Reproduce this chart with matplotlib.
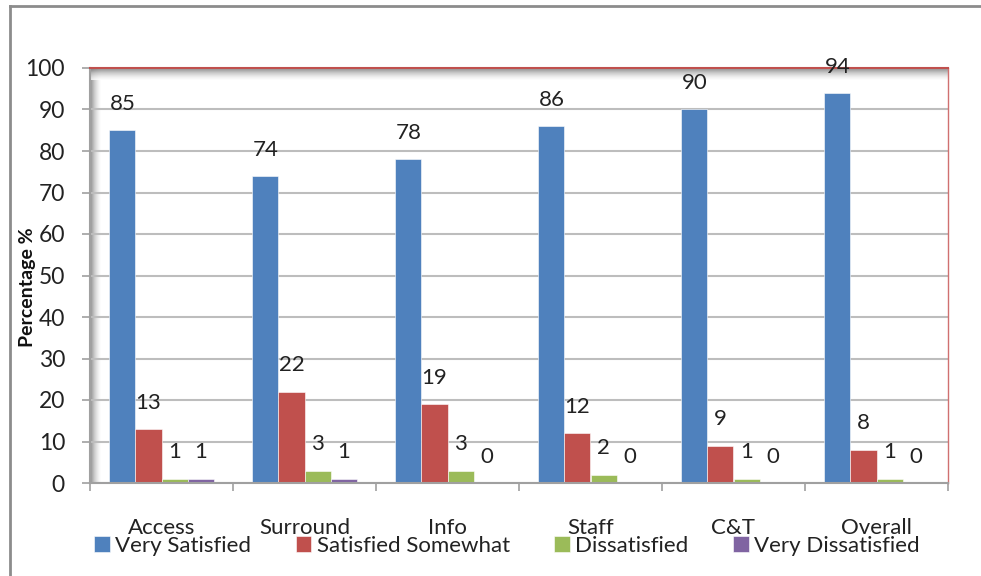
import matplotlib.pyplot as plt
import numpy as np
from matplotlib.lines import Line2D

plt.rcParams['font.family'] = ['Lato', 'DejaVu Sans']

categories = ['Access', 'Surround', 'Info', 'Staff', 'C&T', 'Overall']
series_names = ['Very Satisfied', 'Satisfied Somewhat', 'Dissatisfied', 'Very Dissatisfied']
very_satisfied = [85, 74, 78, 86, 90, 94]
satisfied_somewhat = [13, 22, 19, 12, 9, 8]
dissatisfied = [1, 3, 3, 2, 1, 1]
very_dissatisfied = [1, 1, 0, 0, 0, 0]
y_ticks = [0, 10, 20, 30, 40, 50, 60, 70, 80, 90, 100]

colours = ['#4F81BD', '#C0504D', '#9BBB59', '#8064A2']
all_series = [very_satisfied, satisfied_somewhat, dissatisfied, very_dissatisfied]

fig = plt.figure(figsize=(9.81, 5.76), dpi=100)
ax = fig.add_axes([90 / 981, 1 - 483 / 576, (948 - 90) / 981, (483 - 68) / 576])

x = np.arange(len(categories))
bar_w = 0.182

# Soft shadow on left and top edges of the plot area
grad = np.linspace(0, 1, 50)
ax.imshow(grad[np.newaxis, :], extent=(-0.5, -0.43, 0, 100), cmap='Greys_r',
          vmin=-0.6, vmax=1.0, aspect='auto', zorder=0.5, alpha=0.8)
ax.imshow(grad[:, np.newaxis], extent=(-0.5, 5.5, 97.2, 100), cmap='Greys',
          vmin=0.0, vmax=1.6, aspect='auto', zorder=0.5, alpha=0.8, origin='lower')

for i, (name, values, colour) in enumerate(zip(series_names, all_series, colours)):
    pos = x + (i - 1.5) * bar_w
    ax.bar(pos, values, bar_w, color=colour, label=name, zorder=2,
           edgecolor='white', linewidth=0.4)
    for xp, v in zip(pos, values):
        ax.annotate(str(v), (xp, v), xytext=(0, 19), textcoords='offset points',
                    ha='center', va='center', fontsize=16, color='#222222', zorder=3)

ax.set_xlim(-0.5, len(categories) - 0.5)
ax.set_ylim(0, 100)
ax.set_yticks(y_ticks)
ax.set_axisbelow(True)
ax.yaxis.grid(True, color='#BDBDBD', linewidth=1.5)

ax.set_xticks(x)
ax.set_xticklabels(categories, fontsize=16)
ax.set_xticks(np.arange(-0.5, len(categories)), minor=True)
ax.tick_params(axis='x', which='major', length=0, pad=25, colors='#222222')
ax.tick_params(axis='x', which='minor', length=6, width=1.2, color='#A0A0A0', direction='out')
ax.tick_params(axis='y', length=6, width=1.2, color='#A0A0A0', pad=12, labelsize=16.5,
               labelcolor='#222222')

ax.spines['top'].set_color('#C0504D')
ax.spines['right'].set_color('#D07070')
ax.spines['right'].set_linewidth(1.0)
ax.spines['top'].set_linewidth(1.5)
ax.spines['left'].set_color('#A0A0A0')
ax.spines['bottom'].set_color('#A0A0A0')
ax.spines['left'].set_linewidth(1.5)
ax.spines['bottom'].set_linewidth(1.5)

fig.text(27 / 981, 1 - 287 / 576, 'Percentage %', rotation=90, fontsize=14,
         fontweight='bold', ha='center', va='center', color='#111111')

leg = fig.legend(loc='center', bbox_to_anchor=(507 / 981, 1 - 546 / 576), ncol=4,
                 frameon=False, fontsize=16, handlelength=0.7, handleheight=0.7,
                 handletextpad=0.25, columnspacing=2.0, borderpad=0)
for t in leg.get_texts():
    t.set_color('#222222')

# Outer chart frame (left and top edges)
fig.add_artist(Line2D([10 / 981, 10 / 981], [0, 1 - 6 / 576], transform=fig.transFigure,
                      color='#8C8C8C', linewidth=2))
fig.add_artist(Line2D([10 / 981, 1], [1 - 6 / 576, 1 - 6 / 576], transform=fig.transFigure,
                      color='#8C8C8C', linewidth=2))

fig.savefig('out.png', dpi=100)
